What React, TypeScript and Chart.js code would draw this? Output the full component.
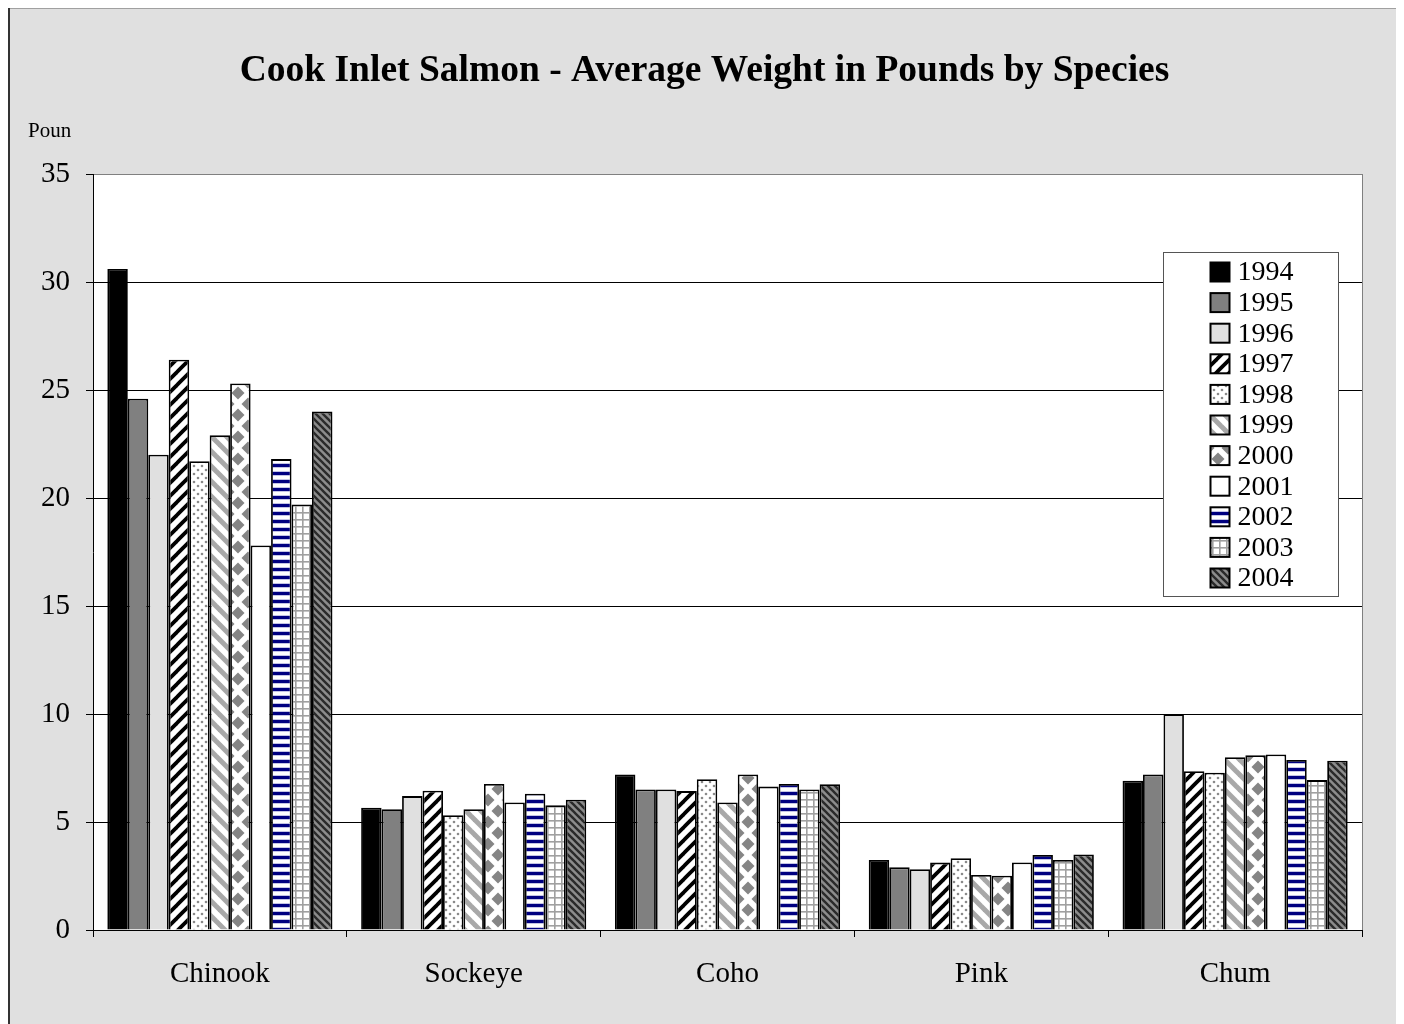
import React, { useEffect, useRef } from 'react';
import { Chart, registerables } from 'chart.js';

Chart.register(...registerables);

const chartTitle = 'Cook Inlet Salmon - Average Weight in Pounds by Species';
const axisTitle = 'Poun';
const categories = ['Chinook', 'Sockeye', 'Coho', 'Pink', 'Chum'];
const years = ['1994', '1995', '1996', '1997', '1998', '1999', '2000', '2001', '2002', '2003', '2004'];

const w1994 = [30.6, 5.66, 7.2, 3.24, 6.91];
const w1995 = [24.6, 5.59, 6.51, 2.9, 7.2];
const w1996 = [22.0, 6.2, 6.51, 2.81, 9.99];
const w1997 = [26.4, 6.45, 6.43, 3.12, 7.35];
const w1998 = [21.7, 5.31, 6.98, 3.32, 7.28];
const w1999 = [22.9, 5.59, 5.9, 2.55, 8.0];
const w2000 = [25.3, 6.76, 7.2, 2.51, 8.09];
const w2001 = [17.8, 5.9, 6.64, 3.13, 8.13];
const w2002 = [21.8, 6.31, 6.76, 3.47, 7.87];
const w2003 = [19.7, 5.77, 6.51, 3.24, 6.94];
const w2004 = [24.0, 6.03, 6.75, 3.5, 7.84];
const seriesValues = [w1994, w1995, w1996, w1997, w1998, w1999, w2000, w2001, w2002, w2003, w2004];

const yTicks = { min: 0, max: 35, step: 5 };
const FONT = '"Liberation Serif", "Times New Roman", serif';

function tile(ctx: CanvasRenderingContext2D, w: number, h: number, draw: (c: CanvasRenderingContext2D) => void) {
  const c = document.createElement('canvas');
  c.width = w;
  c.height = h;
  const t = c.getContext('2d')!;
  draw(t);
  return ctx.createPattern(c, 'repeat')!;
}

function stripes(t: CanvasRenderingContext2D, s: number, bg: string, fg: string, lw: number, forward: boolean) {
  t.fillStyle = bg;
  t.fillRect(0, 0, s, s);
  t.strokeStyle = fg;
  t.lineWidth = lw;
  t.lineCap = 'square';
  for (let k = -1; k <= 1; k++) {
    t.beginPath();
    if (forward) {
      t.moveTo(k * s, s);
      t.lineTo(k * s + s, 0);
    } else {
      t.moveTo(k * s, 0);
      t.lineTo(k * s + s, s);
    }
    t.stroke();
  }
}

function buildFills(ctx: CanvasRenderingContext2D): (string | CanvasPattern)[] {
  const p1997 = tile(ctx, 13, 13, (t) => stripes(t, 13, '#ffffff', '#000000', 3.8, true));
  const p1998 = tile(ctx, 8, 8, (t) => {
    t.fillStyle = '#ffffff';
    t.fillRect(0, 0, 8, 8);
    t.fillStyle = '#8a8a8a';
    t.beginPath();
    t.arc(2, 2, 1.3, 0, Math.PI * 2);
    t.fill();
    t.beginPath();
    t.arc(6, 6, 1.3, 0, Math.PI * 2);
    t.fill();
  });
  const p1999 = tile(ctx, 15, 15, (t) => stripes(t, 15, '#ffffff', '#a8a8a8', 5, false));
  const p2000 = tile(ctx, 20, 22, (t) => {
    t.fillStyle = '#ffffff';
    t.fillRect(0, 0, 20, 22);
    t.fillStyle = '#858585';
    const dia = (cx: number, cy: number) => {
      t.beginPath();
      t.moveTo(cx, cy - 6.5);
      t.lineTo(cx + 6.5, cy);
      t.lineTo(cx, cy + 6.5);
      t.lineTo(cx - 6.5, cy);
      t.closePath();
      t.fill();
    };
    dia(10, 11);
    dia(0, 0);
    dia(20, 0);
    dia(0, 22);
    dia(20, 22);
  });
  const p2002 = tile(ctx, 4, 8, (t) => {
    t.fillStyle = '#ffffff';
    t.fillRect(0, 0, 4, 8);
    t.fillStyle = '#000080';
    t.fillRect(0, 0, 4, 3);
    t.fillStyle = '#c4c4e4';
    t.fillRect(0, 3, 4, 1);
    t.fillRect(0, 7, 4, 1);
  });
  const p2003 = tile(ctx, 7, 7, (t) => {
    t.fillStyle = '#ffffff';
    t.fillRect(0, 0, 7, 7);
    t.fillStyle = '#a0a0a0';
    t.fillRect(0, 0, 7, 1.6);
    t.fillRect(0, 0, 1.6, 7);
  });
  const p2004 = tile(ctx, 7, 7, (t) => stripes(t, 7, '#8c8c8c', '#2a2a2a', 2.4, false));
  return ['#000000', '#808080', '#e0e0e0', p1997, p1998, p1999, p2000, '#ffffff', p2002, p2003, p2004];
}

export default function App() {
  const ref = useRef<HTMLCanvasElement>(null);

  useEffect(() => {
    document.documentElement.style.overflow = 'hidden';
    const canvas = ref.current!;
    const ctx = canvas.getContext('2d')!;
    const fills = buildFills(ctx);

    const decor = {
      id: 'decor',
      beforeDraw(chart: any) {
        const { ctx: c, width, height, chartArea: a } = chart;
        c.save();
        c.fillStyle = '#e0e0e0';
        c.fillRect(0, 0, width, height);
        c.fillStyle = '#ffffff';
        c.fillRect(a.left, a.top, a.right - a.left, a.bottom - a.top);
        // outer frame: light top edge, dark sides
        c.fillStyle = '#a0a0a0';
        c.fillRect(0, 0, width, 1);
        c.fillStyle = '#333333';
        c.fillRect(0, 0, 2, height);
        c.fillRect(width - 2, 0, 2, height);
        c.fillStyle = '#000000';
        c.font = `bold 37.5px ${FONT}`;
        c.textAlign = 'center';
        c.textBaseline = 'middle';
        c.fillText(chartTitle, width / 2 + 0.5, 63);
        c.font = `21px ${FONT}`;
        c.textAlign = 'left';
        c.fillText(axisTitle, 20, 123);
        c.restore();
      },
      afterDraw(chart: any) {
        const { ctx: c, chartArea: a } = chart;
        c.save();
        c.strokeStyle = '#808080';
        c.lineWidth = 1;
        c.beginPath();
        c.moveTo(a.right + 0.5, a.top);
        c.lineTo(a.right + 0.5, a.bottom);
        c.stroke();

        // legend
        const bw = 175;
        const bh = 344;
        const bx = Math.round(a.right - 24 - bw) + 0.5;
        const by = Math.round(a.top + 78) + 0.5;
        c.fillStyle = '#ffffff';
        c.fillRect(bx, by, bw, bh);
        c.strokeStyle = '#555555';
        c.lineWidth = 1;
        c.strokeRect(bx, by, bw, bh);
        c.font = `28px ${FONT}`;
        c.textAlign = 'left';
        c.textBaseline = 'middle';
        years.forEach((y, i) => {
          const cy = by + 19.5 + i * 30.6;
          const sx = bx + 47;
          c.fillStyle = fills[i];
          c.fillRect(sx, cy - 9.5, 19, 19);
          c.strokeStyle = '#000000';
          c.lineWidth = 2;
          c.strokeRect(sx, cy - 9.5, 19, 19);
          c.fillStyle = '#000000';
          c.fillText(y, bx + 74, cy + 1);
        });
        c.restore();
      },
    };

    const chart = new Chart(canvas, {
      type: 'bar',
      data: {
        labels: categories,
        datasets: years.map((y, i) => ({
          label: y,
          data: seriesValues[i],
          backgroundColor: fills[i] as any,
          borderColor: '#000000',
          borderWidth: 1.8,
          categoryPercentage: 0.887,
          barPercentage: 1.0,
        })),
      },
      options: {
        animation: false,
        responsive: false,
        devicePixelRatio: 1,
        events: [],
        layout: { padding: { top: 166, right: 38, bottom: 38, left: 0 } },
        plugins: {
          legend: { display: false },
          title: { display: false },
          tooltip: { enabled: false },
        },
        scales: {
          x: {
            afterFit: (s: any) => {
              s.height = 80;
            },
            grid: {
              display: true,
              drawOnChartArea: false,
              drawTicks: true,
              tickLength: 7,
              color: '#000000',
              offset: true,
            },
            border: { display: true, color: '#000000', width: 1 },
            ticks: { color: '#000000', font: { family: FONT, size: 29 }, padding: 20 },
          },
          y: {
            min: yTicks.min,
            max: yTicks.max,
            afterFit: (s: any) => {
              s.width = 85;
            },
            grid: {
              color: (c: any) => (c.tick && c.tick.value === yTicks.max ? '#808080' : '#000000'),
              tickColor: '#000000',
              tickLength: 7,
              lineWidth: 1,
            },
            border: { display: true, color: '#000000', width: 1 },
            ticks: {
              stepSize: yTicks.step,
              color: '#000000',
              font: { family: FONT, size: 29 },
              padding: 16,
            },
          },
        },
      },
      plugins: [decor],
    });
    return () => chart.destroy();
  }, []);

  return (
    <canvas
      ref={ref}
      width={1392}
      height={1040}
      style={{ display: 'block', width: 1392, height: 1040 }}
    />
  );
}
